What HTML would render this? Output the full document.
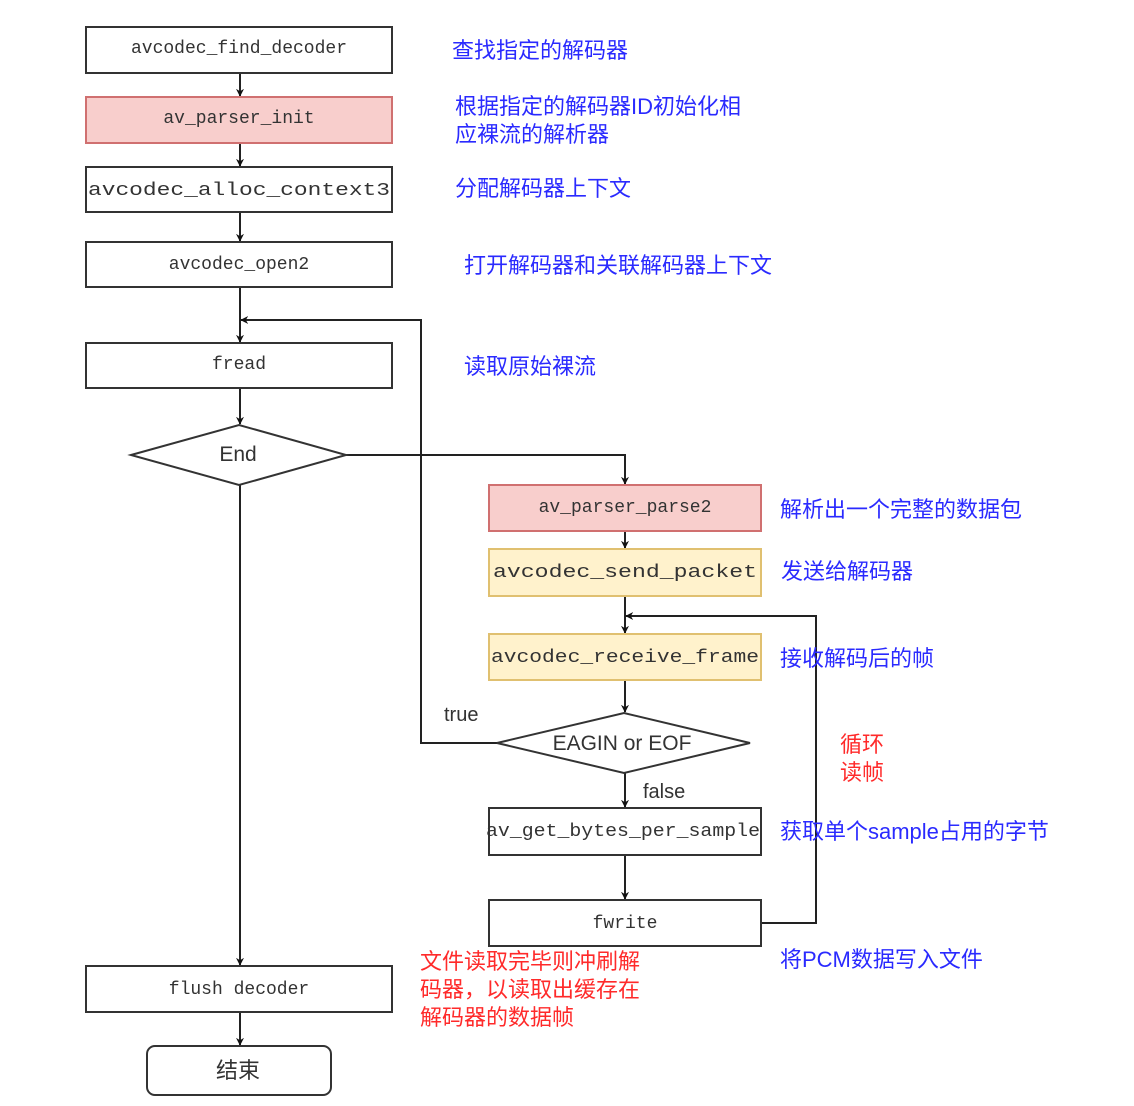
<!DOCTYPE html>
<html><head><meta charset="utf-8"><style>
html,body{margin:0;padding:0;background:#fff}
svg text{font-family:"Liberation Sans","Noto Sans CJK SC",sans-serif}
.m{font-family:"Liberation Mono",monospace!important;font-size:18px;fill:#333}
.b{fill:#2a2aff;font-size:22px}
.r{fill:#ff2a2a;font-size:22px}
</style></head><body>
<svg width="1134" height="1101" viewBox="0 0 1134 1101" xmlns="http://www.w3.org/2000/svg">
<defs><marker id="a" viewBox="0 0 10 10" refX="9" refY="5" markerWidth="8" markerHeight="8" orient="auto" markerUnits="userSpaceOnUse"><path d="M0,0 L10,5 L0,10 L3,5 Z" fill="#111"/></marker></defs>
<g fill="none" stroke="#222" stroke-width="2" marker-end="url(#a)">
<line x1="240" y1="73" x2="240" y2="96"/>
<line x1="240" y1="143" x2="240" y2="166"/>
<line x1="240" y1="212" x2="240" y2="241"/>
<line x1="240" y1="287" x2="240" y2="342"/>
<line x1="240" y1="388" x2="240" y2="424"/>
<line x1="240" y1="485" x2="240" y2="965"/>
<line x1="240" y1="1012" x2="240" y2="1045"/>
<polyline points="346,455 625,455 625,484"/>
<line x1="625" y1="531" x2="625" y2="548"/>
<line x1="625" y1="596" x2="625" y2="633"/>
<line x1="625" y1="680" x2="625" y2="712"/>
<line x1="625" y1="773" x2="625" y2="807"/>
<line x1="625" y1="855" x2="625" y2="899"/>
<polyline points="497,743 421,743 421,320 241,320"/>
<polyline points="761,923 816,923 816,616 626,616"/>
</g>
<g stroke-width="2">
<rect x="86" y="27" width="306" height="46" fill="#fff" stroke="#333"/>
<rect x="86" y="97" width="306" height="46" fill="#f8cecc" stroke="#d07070"/>
<rect x="86" y="167" width="306" height="45" fill="#fff" stroke="#333"/>
<rect x="86" y="242" width="306" height="45" fill="#fff" stroke="#333"/>
<rect x="86" y="343" width="306" height="45" fill="#fff" stroke="#333"/>
<polygon points="131,455 239,425 346,455 239,485" fill="#fff" stroke="#333"/>
<rect x="86" y="966" width="306" height="46" fill="#fff" stroke="#333"/>
<rect x="147" y="1046" width="184" height="49" rx="8" fill="#fff" stroke="#333"/>
<rect x="489" y="485" width="272" height="46" fill="#f8cecc" stroke="#d07070"/>
<rect x="489" y="549" width="272" height="47" fill="#fff2cc" stroke="#e0c070"/>
<rect x="489" y="634" width="272" height="46" fill="#fff2cc" stroke="#e0c070"/>
<polygon points="497,743 624,713 750,743 624,773" fill="#fff" stroke="#333"/>
<rect x="489" y="808" width="272" height="47" fill="#fff" stroke="#333"/>
<rect x="489" y="900" width="272" height="46" fill="#fff" stroke="#333"/>
</g>
<g text-anchor="middle">
<text class="m" x="239" y="53">avcodec_find_decoder</text>
<text class="m" x="239" y="123">av_parser_init</text>
<text class="m" x="239" y="195" textLength="302" lengthAdjust="spacingAndGlyphs">avcodec_alloc_context3</text>
<text class="m" x="239" y="269">avcodec_open2</text>
<text class="m" x="239" y="369">fread</text>
<text x="238" y="461" font-size="21" fill="#333">End</text>
<text class="m" x="239" y="994">flush decoder</text>
<text x="238" y="1078" font-size="22" fill="#333">结束</text>
<text class="m" x="625" y="512">av_parser_parse2</text>
<text class="m" x="625" y="577" textLength="264" lengthAdjust="spacingAndGlyphs">avcodec_send_packet</text>
<text class="m" x="625" y="662" textLength="268" lengthAdjust="spacingAndGlyphs">avcodec_receive_frame</text>
<text x="622" y="750" font-size="21" fill="#333">EAGIN or EOF</text>
<text class="m" x="623" y="836" font-size="16" textLength="274" lengthAdjust="spacingAndGlyphs">av_get_bytes_per_sample</text>
<text class="m" x="625" y="928">fwrite</text>
</g>
<text x="444" y="721" font-size="20" fill="#333">true</text>
<text x="643" y="798" font-size="20" fill="#333">false</text>
<text class="b" x="452" y="58">查找指定的解码器</text>
<text class="b" x="455" y="114">根据指定的解码器ID初始化相</text>
<text class="b" x="455" y="142">应裸流的解析器</text>
<text class="b" x="455" y="196">分配解码器上下文</text>
<text class="b" x="464" y="273">打开解码器和关联解码器上下文</text>
<text class="b" x="464" y="374">读取原始裸流</text>
<text class="b" x="780" y="517">解析出一个完整的数据包</text>
<text class="b" x="781" y="579">发送给解码器</text>
<text class="b" x="780" y="666">接收解码后的帧</text>
<text class="r" x="840" y="752">循环</text>
<text class="r" x="840" y="780">读帧</text>
<text class="b" x="780" y="839">获取单个sample占用的字节</text>
<text class="b" x="780" y="967">将PCM数据写入文件</text>
<text class="r" x="420" y="969">文件读取完毕则冲刷解</text>
<text class="r" x="420" y="997">码器，以读取出缓存在</text>
<text class="r" x="420" y="1025">解码器的数据帧</text>
</svg>
</body></html>
